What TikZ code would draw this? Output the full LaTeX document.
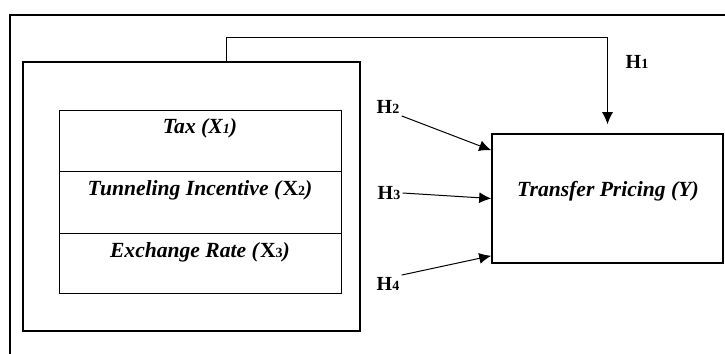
\documentclass[tikz,border=0pt]{standalone}
\usepackage{fontspec}
\setmainfont{Liberation Serif}
\usetikzlibrary{arrows.meta, fit}

% small index digit after a letter
\newcommand{\idx}[2][7]{{\fontsize{#1}{#1}\selectfont #2}}

\begin{document}
\begin{tikzpicture}[x=0.5pt, y=-0.5pt,
    box/.style={draw, line width=0.8pt, inner sep=0pt},
    cell/.style={draw, line width=0.5pt, inner sep=0pt},
    vartext/.style={font=\fontsize{10.8}{13}\selectfont\bfseries\itshape, inner sep=0pt},
    hyp/.style={font=\fontsize{10}{12}\selectfont\bfseries, inner sep=1pt},
    conn/.style={-{Latex[length=6pt,width=5.5pt]}, line width=0.5pt}]

    % Canvas
    \useasboundingbox (0,0) rectangle (725,354);

    % Outer frame (cut off at right and bottom)
    \draw[line width=0.8pt] (10,354) -- (10,15) -- (725,15);

    % Group of independent variables
    \node[box, fit={(23,62) (360,331)}] (group) {};

    % Table of independent variables
    \node[cell, fit={(59,110) (341,171)}] (tax) {};
    \node[cell, fit={(59,171) (341,233)}] (tunnel) {};
    \node[cell, fit={(59,233) (341,293)}] (exchange) {};
    \node[vartext] (taxtext) at (200,128) {Tax (X\idx{1})};
    \node[vartext] (tunneltext) at (200,190) {Tunneling Incentive (\textup{X\idx{2}})};
    \node[vartext] (exchangetext) at (200,252) {Exchange Rate (\textup{X\idx{3}})};

    % Dependent variable
    \node[box, fit={(492,134) (723,263)}] (pricing) {};
    \node[vartext] (pricingtext) at (608,191) {Transfer Pricing (Y)};

    % Hypotheses
    \coordinate (h1start) at (226,62);
    \draw[conn] (h1start) -- (226,37) -| ([yshift=4.5pt]pricing.north);
    \node[hyp] (h1) at (637,62) {H\idx{1}};
    \node[hyp] (h2) at (388,107) {H\idx{2}};
    \node[hyp] (h3) at (389,193) {H\idx{3}};
    \node[hyp] (h4) at (388,284) {H\idx{4}};
    \draw[conn] (h2.south east) -- ([yshift=-8.5pt]pricing.north west);
    \draw[conn] (h3.east) -- (pricing.west);
    \draw[conn] (h4.north east) -- ([yshift=4pt]pricing.south west);

\end{tikzpicture}
\end{document}
